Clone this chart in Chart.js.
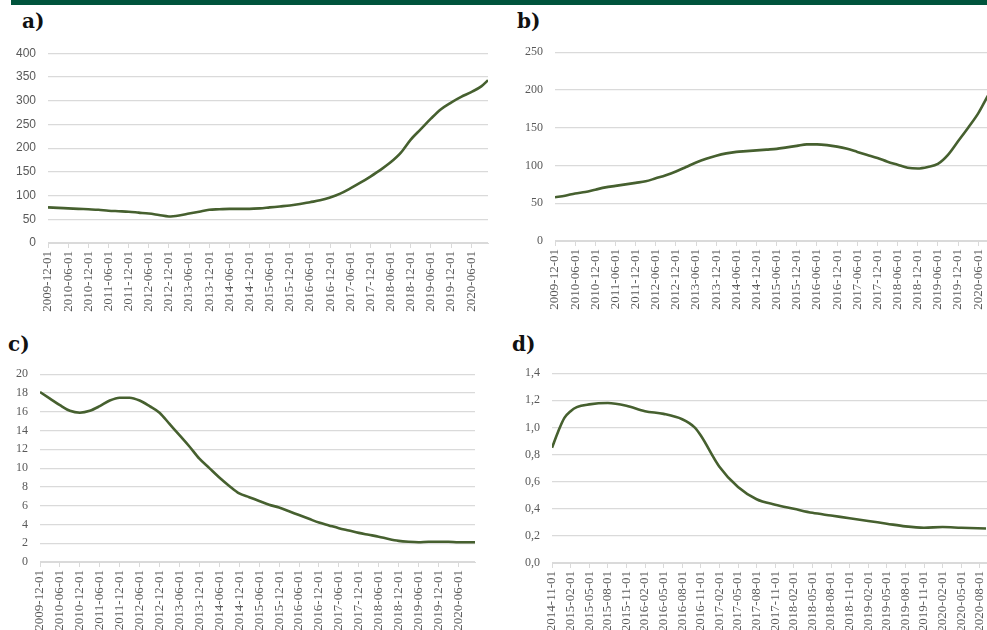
<!DOCTYPE html>
<html>
<head>
<meta charset="utf-8">
<script src="https://cdn.jsdelivr.net/npm/chart.js@4.4.1/dist/chart.umd.min.js"></script>
<style>
    html, body { margin: 0; padding: 0; background: #ffffff; }
    body { width: 987px; height: 630px; position: relative; overflow: hidden; }
    .topbar { position: absolute; left: 11px; top: 0; width: 976px; height: 5px; background: #00543c; }
    .title { position: absolute; font-family: "DejaVu Serif", serif; font-weight: bold; font-size: 20px; color: #111; }
    .panel { position: absolute; }
</style>
</head>
<body>
<div class="topbar"></div>
<div class="title" style="left:22px; top:9px;">a)</div>
<div class="title" style="left:517px; top:9px;">b)</div>
<div class="title" style="left:8px; top:332px;">c)</div>
<div class="title" style="left:512px; top:332px;">d)</div>

<div class="panel" style="left:0; top:34px; width:493px; height:283px;"><canvas id="chart-a"></canvas></div>
<div class="panel" style="left:507px; top:33px; width:493px; height:283px;"><canvas id="chart-b"></canvas></div>
<div class="panel" style="left:0; top:355px; width:493px; height:275px;"><canvas id="chart-c"></canvas></div>
<div class="panel" style="left:504px; top:354px; width:513px; height:276px;"><canvas id="chart-d"></canvas></div>

<script>
// Panels a, b, c: 2009-12 .. 2020-11, labels every 6 months
const longTickLabels = [
    '2009-12-01', '2010-06-01', '2010-12-01', '2011-06-01', '2011-12-01', '2012-06-01',
    '2012-12-01', '2013-06-01', '2013-12-01', '2014-06-01', '2014-12-01', '2015-06-01',
    '2015-12-01', '2016-06-01', '2016-12-01', '2017-06-01', '2017-12-01', '2018-06-01',
    '2018-12-01', '2019-06-01', '2019-12-01', '2020-06-01'
];

// Panel d: 2014-11 .. 2020-09, labels every 3 months
const shortTickLabels = [
    '2014-11-01', '2015-02-01', '2015-05-01', '2015-08-01', '2015-11-01', '2016-02-01',
    '2016-05-01', '2016-08-01', '2016-11-01', '2017-02-01', '2017-05-01', '2017-08-01',
    '2017-11-01', '2018-02-01', '2018-05-01', '2018-08-01', '2018-11-01', '2019-02-01',
    '2019-05-01', '2019-08-01', '2019-11-01', '2020-02-01', '2020-05-01', '2020-08-01'
];

const longDates = [
    '2009-12', '2010-03', '2010-06', '2010-09', '2010-12', '2011-03', '2011-06', '2011-09',
    '2011-12', '2012-03', '2012-06', '2012-09', '2012-12', '2013-03', '2013-06', '2013-09',
    '2013-12', '2014-03', '2014-06', '2014-09', '2014-12', '2015-03', '2015-06', '2015-09',
    '2015-12', '2016-03', '2016-06', '2016-09', '2016-12', '2017-03', '2017-06', '2017-09',
    '2017-12', '2018-03', '2018-06', '2018-09', '2018-12', '2019-03', '2019-06', '2019-09',
    '2019-12', '2020-03', '2020-06', '2020-09', '2020-11'
];

const valuesA = [
    75, 74, 73, 72, 71, 70, 68, 67,
    66, 64, 62, 59, 56, 58, 62, 66,
    70, 71, 72, 72, 72, 73, 75, 77,
    79, 82, 86, 90, 96, 104, 115, 127,
    140, 154, 170, 190, 218, 240, 262, 282,
    296, 308, 318, 330, 343
];

const valuesB = [
    58, 60, 63, 65, 68, 71, 73, 75,
    77, 79, 83, 87, 92, 98, 104, 109,
    113, 116, 118, 119, 120, 121, 122, 124,
    126, 128, 128, 127, 125, 122, 118, 114,
    110, 105, 101, 97, 96, 98, 102, 114,
    132, 150, 169, 193, 206
];

const valuesC = [
    18.1, 17.4, 16.7, 16.1, 15.9, 16.1, 16.6, 17.2,
    17.5, 17.5, 17.2, 16.6, 15.9, 14.7, 13.5, 12.3,
    11.0, 10.0, 9.0, 8.1, 7.3, 6.9, 6.5, 6.1,
    5.8, 5.4, 5.0, 4.6, 4.2, 3.9, 3.6, 3.35,
    3.1, 2.9, 2.7, 2.45, 2.25, 2.15, 2.1, 2.15,
    2.15, 2.15, 2.1, 2.1, 2.1
];

const datesD = [
    '2014-11', '2014-12', '2015-01', '2015-02', '2015-03', '2015-05', '2015-08', '2015-11',
    '2016-02', '2016-05', '2016-08', '2016-10', '2016-11', '2017-02', '2017-05', '2017-08',
    '2017-11', '2018-02', '2018-05', '2018-08', '2018-11', '2019-02', '2019-05', '2019-08',
    '2019-11', '2020-02', '2020-05', '2020-09'
];

const valuesD = [
    0.85, 0.97, 1.07, 1.12, 1.15, 1.17, 1.18, 1.16,
    1.12, 1.10, 1.06, 1.00, 0.94, 0.71, 0.56, 0.47,
    0.43, 0.40, 0.37, 0.35, 0.33, 0.31, 0.29, 0.27,
    0.26, 0.265, 0.26, 0.255
];

const LINE_COLOR = '#46602f';
const GRID_COLOR = '#dadada';
const TICK_COLOR = '#595959';

// months elapsed since a 'YYYY-MM' start
function monthIndex(date, start) {
    const [y, m] = date.split('-').map(Number);
    const [sy, sm] = start.split('-').map(Number);
    return (y - sy) * 12 + (m - sm);
}

function buildPoints(dates, values, start) {
    return dates.map((d, i) => ({ x: monthIndex(d, start), y: values[i] }));
}

function makePanel(id, cfg) {
    const canvas = document.getElementById(id);
    const ctx = canvas.getContext('2d');
    return new Chart(ctx, {
        type: 'line',
        data: {
            datasets: [{
                data: cfg.points,
                borderColor: LINE_COLOR,
                borderWidth: 2.6,
                pointRadius: 0,
                cubicInterpolationMode: 'monotone',
                fill: false
            }]
        },
        options: {
            responsive: true,
            maintainAspectRatio: false,
            animation: false,
            layout: { padding: cfg.padding },
            plugins: {
                legend: { display: false },
                tooltip: { enabled: false }
            },
            scales: {
                x: {
                    type: 'linear',
                    min: 0,
                    max: cfg.xMax,
                    afterFit: (scale) => { scale.height = cfg.xAxisHeight; },
                    ticks: {
                        stepSize: cfg.step,
                        includeBounds: false,
                        autoSkip: false,
                        minRotation: 90,
                        maxRotation: 90,
                        padding: 3,
                        color: TICK_COLOR,
                        font: { family: 'Liberation Serif', size: 13 },
                        callback: (value) => cfg.tickLabels[value / cfg.step] || ''
                    },
                    grid: {
                        display: true,
                        drawOnChartArea: false,
                        drawTicks: true,
                        tickLength: 5,
                        color: GRID_COLOR
                    },
                    border: { display: true, color: GRID_COLOR, width: 1 }
                },
                y: {
                    min: 0,
                    max: cfg.yMax,
                    afterFit: (scale) => { scale.width = cfg.yAxisWidth; },
                    ticks: {
                        stepSize: cfg.yStep,
                        padding: 12,
                        color: TICK_COLOR,
                        font: { family: cfg.yFont, size: 12 },
                        callback: cfg.yFormat
                    },
                    grid: {
                        color: GRID_COLOR,
                        lineWidth: 1.2,
                        drawTicks: false
                    },
                    border: { display: false }
                }
            }
        }
    });
}

const plainFormat = (v) => v;
const commaFormat = (v) => v.toFixed(1).replace('.', ',');

makePanel('chart-a', {
    points: buildPoints(longDates, valuesA, '2009-12'),
    tickLabels: longTickLabels, step: 6, xMax: 131,
    yMax: 400, yStep: 50, yFont: 'Liberation Sans', yFormat: plainFormat,
    yAxisWidth: 48, xAxisHeight: 74,
    padding: { top: 5, right: 5, left: 0, bottom: 0 }
});

makePanel('chart-b', {
    points: buildPoints(longDates, valuesB, '2009-12'),
    tickLabels: longTickLabels, step: 6, xMax: 131,
    yMax: 250, yStep: 50, yFont: 'Liberation Serif', yFormat: plainFormat,
    yAxisWidth: 48, xAxisHeight: 75,
    padding: { top: 7, right: 5, left: 0, bottom: 0 }
});

makePanel('chart-c', {
    points: buildPoints(longDates, valuesC, '2009-12'),
    tickLabels: longTickLabels, step: 6, xMax: 131,
    yMax: 20, yStep: 2, yFont: 'Liberation Serif', yFormat: plainFormat,
    yAxisWidth: 40, xAxisHeight: 68,
    padding: { top: 5, right: 18, left: 0, bottom: 0 }
});

makePanel('chart-d', {
    points: buildPoints(datesD, valuesD, '2014-11'),
    tickLabels: shortTickLabels, step: 3, xMax: 72,
    yMax: 1.4, yStep: 0.2, yFont: 'Liberation Serif', yFormat: commaFormat,
    yAxisWidth: 48, xAxisHeight: 67,
    padding: { top: 4, right: 5, left: 0, bottom: 0 }
});
</script>
</body>
</html>
